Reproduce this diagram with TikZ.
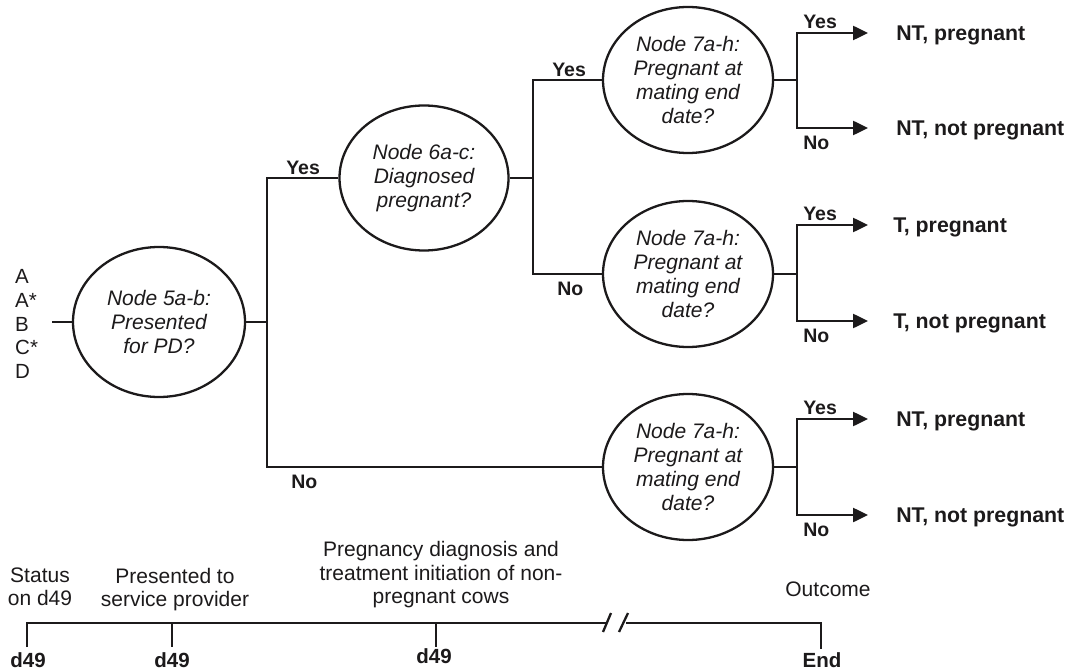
\documentclass[tikz,border=0pt]{standalone}
\usepackage{fontspec}
\setmainfont{Liberation Sans}
\usetikzlibrary{shapes.geometric,arrows.meta}
\definecolor{ink}{HTML}{1C1A1B}
\begin{document}
\begin{tikzpicture}[x=1pt,y=-1pt,
  line width=2.5pt, draw=ink, text=ink,
  dec/.style={ellipse, draw, line width=2.3pt, minimum width=170pt, minimum height=146pt,
    inner sep=0pt, align=center, font=\fontsize{21}{24}\selectfont\itshape},
  lbl/.style={font=\fontsize{19.5}{22}\selectfont\bfseries, inner sep=0pt, anchor=base west},
  outc/.style={font=\fontsize{21.3}{24}\selectfont\bfseries, anchor=base west, inner sep=0pt},
  arr/.style={-{Triangle[length=15pt,width=14pt]}},
  tl/.style={font=\fontsize{21}{23.5}\selectfont, align=center, anchor=south, inner sep=0pt},
  day/.style={font=\fontsize{20.5}{24}\selectfont\bfseries, anchor=base, inner sep=0pt}
]
\useasboundingbox (0,0) rectangle (1068,671);

% decision nodes
\node[dec, minimum width=172pt, minimum height=150pt] (e5) at (159,322) {Node 5a-b:\\Presented\\for PD?};
\node[dec, minimum width=169pt, minimum height=145pt] (e6) at (424,178) {Node 6a-c:\\Diagnosed\\pregnant?};
\node[dec] (e7a) at (688,80) {Node 7a-h:\\Pregnant at\\mating end\\date?};
\node[dec] (e7b) at (688,274) {Node 7a-h:\\Pregnant at\\mating end\\date?};
\node[dec] (e7c) at (688,467) {Node 7a-h:\\Pregnant at\\mating end\\date?};

% group labels
\node[anchor=west, inner sep=0pt, align=left, font=\fontsize{20.5}{23.7}\selectfont] (grp) at (14,324) {A\\A*\\B\\C*\\D};

% tree connectors
\coordinate (s0) at (52,322);
\coordinate (j1) at (267,322);
\coordinate (j2) at (533,178);
\draw (s0) -- (e5.west);
\draw (e5.east) -- (j1);
\draw (e6.west) -| (j1) |- (e7c.west);
\draw (e6.east) -- (j2);
\draw (e7a.west) -| (j2) |- (e7b.west);

\node[lbl] (ly1) at (285,175) {Yes};
\node[lbl] (ln1) at (290,488) {No};
\node[lbl] (ly2) at (551,77) {Yes};
\node[lbl] (ln2) at (556,295) {No};

% outcome branches
\coordinate (ka) at (797,80);
\coordinate (kb) at (797,274);
\coordinate (kc) at (797,467);
\coordinate (ya) at (868,33);  \coordinate (na) at (868,128);
\coordinate (yb) at (868,225); \coordinate (nb) at (868,321);
\coordinate (yc) at (868,419); \coordinate (nc) at (868,515);
\draw (e7a.east) -- (ka);
\draw (e7b.east) -- (kb);
\draw (e7c.east) -- (kc);
\draw[arr] (ka) |- (ya); \draw[arr] (ka) |- (na);
\draw[arr] (kb) |- (yb); \draw[arr] (kb) |- (nb);
\draw[arr] (kc) |- (yc); \draw[arr] (kc) |- (nc);

\node[lbl] (ya1) at (802,28.5) {Yes};
\node[lbl] (na1) at (802,149.5) {No};
\node[lbl] (yb1) at (802,220.5) {Yes};
\node[lbl] (nb1) at (802,342.5) {No};
\node[lbl] (yc1) at (802,414.5) {Yes};
\node[lbl] (nc1) at (802,536.5) {No};

\node[outc] (oa1) at (895,40.5) {NT, pregnant};
\node[outc] (oa2) at (895,135.5) {NT, not pregnant};
\node[outc] (ob1) at (892,232.5) {T, pregnant};
\node[outc] (ob2) at (892,328.5) {T, not pregnant};
\node[outc] (oc1) at (895,426.5) {NT, pregnant};
\node[outc] (oc2) at (895,522.5) {NT, not pregnant};

% timeline
\coordinate (t0) at (27,623);  \coordinate (t0b) at (27,647);
\coordinate (t1) at (172,623); \coordinate (t1b) at (172,647);
\coordinate (t2) at (436,623); \coordinate (t2b) at (436,647);
\coordinate (brk1) at (606,623); \coordinate (brk2) at (626,623);
\coordinate (t3) at (821,623); \coordinate (t3b) at (821,649);
\draw (t0b) -- (t0) -- (brk1);
\draw (t1) -- (t1b);
\draw (t2) -- (t2b);
\draw (brk2) -- (t3) -- (t3b);
\draw[line width=2.3pt] ([shift={(-3,9)}]brk1) -- ([shift={(5,-10)}]brk1);
\draw[line width=2.3pt] ([shift={(-7,9)}]brk2) -- ([shift={(2,-10)}]brk2);

\node[tl] (h0) at (40,611.5) {Status\\on d49\vphantom{p}};
\node[tl] (h1) at (175,612.5) {Presented to\\service provider};
\node[tl] (h2) at (441,609.5) {Pregnancy diagnosis and\\treatment initiation of non-\\pregnant cows};
\node[font=\fontsize{21}{24}\selectfont, anchor=base, inner sep=0pt] (h3) at (828,596) {Outcome};

\node[day] (d0) at (28,667) {d49};
\node[day] (d1) at (172,667) {d49};
\node[day] (d2) at (434,663) {d49};
\node[day] (d3) at (822,667) {End};
\end{tikzpicture}
\end{document}
